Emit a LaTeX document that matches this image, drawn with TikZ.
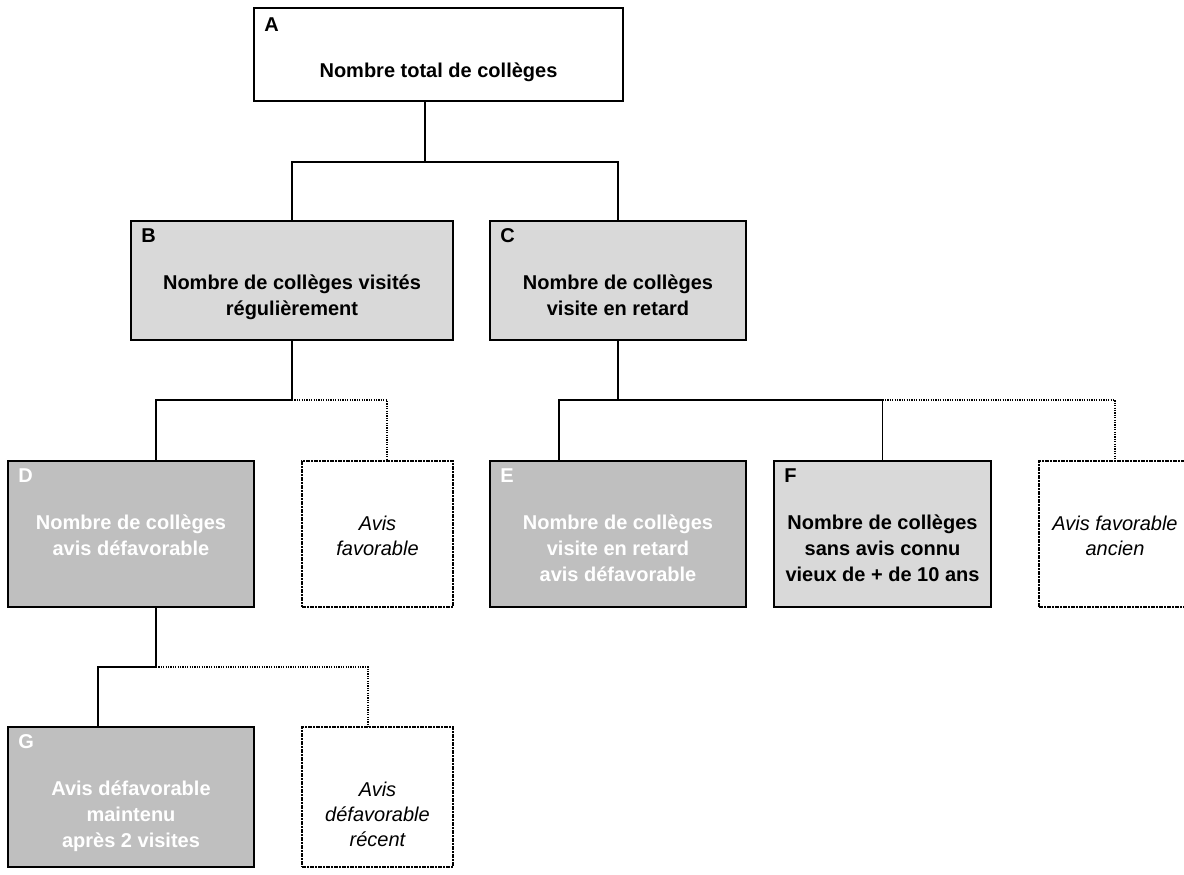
\documentclass[tikz,border=0pt]{standalone}
\usepackage{fontspec}
\setmainfont{Liberation Sans}
\usepackage{tikz}
\usetikzlibrary{positioning}
\definecolor{grisclair}{HTML}{D9D9D9}
\definecolor{grisfonce}{HTML}{BFBFBF}
\tikzset{
  box/.style={draw,line width=1.1pt,inner sep=0pt},
  boxsize/.style 2 args={minimum width=#1,minimum height=#2},
  total/.style={box,fill=white},
  niveau/.style={box,fill=grisclair},
  alerte/.style={box,fill=grisfonce},
  autre/.style={draw,line width=0.6pt,dash pattern=on 2pt off 0.7pt on 0.6pt off 0.7pt,fill=white,inner sep=0pt},
  lettre/.style={anchor=north west,inner sep=0pt,font=\fontsize{10}{13}\selectfont\bfseries},
  titre/.style={anchor=north,inner sep=0pt,align=center,font=\fontsize{10}{13}\selectfont\bfseries},
  note/.style={anchor=north,inner sep=0pt,align=center,font=\fontsize{10}{12.5}\selectfont\itshape},
  link/.style={line width=0.8pt},
  opt/.style={line width=0.6pt,dash pattern=on 0.6pt off 0.6pt}
}
\begin{document}
\begin{tikzpicture}[x=0.5pt,y=-0.5pt]
  \useasboundingbox (0,0) rectangle (1184,874);

  % boxes
  \node[total,boxsize={184.5pt}{46.5pt}] (A) at (438.5,54.5) {};
  \node[niveau,boxsize={161pt}{59.5pt}] (B) at (292,280.5) {};
  \node[niveau,boxsize={128pt}{59.5pt}] (C) at (618,280.5) {};
  \node[alerte,boxsize={123pt}{73pt}] (D) at (131,534) {};
  \node[autre,boxsize={75.5pt}{73pt}] (Df) at (377.5,534) {};
  \node[alerte,boxsize={128pt}{73pt}] (E) at (618,534) {};
  \node[niveau,boxsize={108.5pt}{73pt}] (F) at (882.5,534) {};
  \node[autre,boxsize={76pt}{73pt}] (Ea) at (1115,534) {};
  \node[alerte,boxsize={123pt}{70pt}] (G) at (131,797) {};
  \node[autre,boxsize={75.5pt}{70pt}] (Gr) at (377.5,797) {};

  % letters
  \node[lettre] (Al) at ([xshift=5.5pt,yshift=-5pt]A.north west) {A};
  \node[lettre] (Bl) at ([xshift=5.5pt,yshift=-4pt]B.north west) {B};
  \node[lettre] (Cl) at ([xshift=5.5pt,yshift=-4pt]C.north west) {C};
  \node[lettre,text=white] (Dl) at ([xshift=5.5pt,yshift=-4pt]D.north west) {D};
  \node[lettre,text=white] (El) at ([xshift=5.5pt,yshift=-4pt]E.north west) {E};
  \node[lettre] (Fl) at ([xshift=5.5pt,yshift=-4pt]F.north west) {F};
  \node[lettre,text=white] (Gl) at ([xshift=5.5pt,yshift=-4pt]G.north west) {G};

  % texts
  \node[titre] (At) at ([yshift=-28pt]A.north) {Nombre total de collèges};
  \node[titre] (Bt) at ([yshift=-27.5pt]B.north) {Nombre de collèges visités\\régulièrement};
  \node[titre] (Ct) at ([yshift=-27.5pt]C.north) {Nombre de collèges\\visite en retard};
  \node[titre,text=white] (Dt) at ([yshift=-27.5pt]D.north) {Nombre de collèges\\avis défavorable};
  \node[note] (Dft) at ([yshift=-27.5pt]Df.north) {Avis\\favorable};
  \node[titre,text=white] (Et) at ([yshift=-27.5pt]E.north) {Nombre de collèges\\visite en retard\\avis défavorable};
  \node[titre] (Ft) at ([yshift=-27.5pt]F.north) {Nombre de collèges\\sans avis connu\\vieux de + de 10 ans};
  \node[note] (Eat) at ([yshift=-27.5pt]Ea.north) {Avis favorable\\ancien};
  \node[titre,text=white] (Gt) at ([yshift=-27.5pt]G.north) {Avis défavorable\\maintenu\\après 2 visites};
  \node[note] (Grt) at ([yshift=-27.5pt]Gr.north) {Avis\\défavorable\\récent};

  % junctions
  \coordinate (jA) at (425,162);
  \coordinate (jB) at (B.south |- 0,400);
  \coordinate (jC) at (C.south |- 0,400);
  \coordinate (jD) at ([xshift=12.5pt]D.south |- 0,667);

  % connectors
  \draw[link] (A.south -| jA) -- (jA);
  \draw[link] (B.north) |- (jA) -| (C.north);
  \draw[link] (B.south) -- (jB) -| ([xshift=12.5pt]D.north);
  \draw[opt] (jB) -| ([xshift=4.75pt]Df.north);
  \draw[link] (C.south) -- (jC);
  \draw[link] ([xshift=-29.5pt]E.north) |- (F.north |- jC) -- (F.north);
  \draw[opt] (F.north |- jC) -| (Ea.north);
  \draw[link] ([xshift=12.5pt]D.south) -- (jD) -| ([xshift=-16.5pt]G.north);
  \draw[opt] (jD) -| ([xshift=-4.75pt]Gr.north);
\end{tikzpicture}
\end{document}
